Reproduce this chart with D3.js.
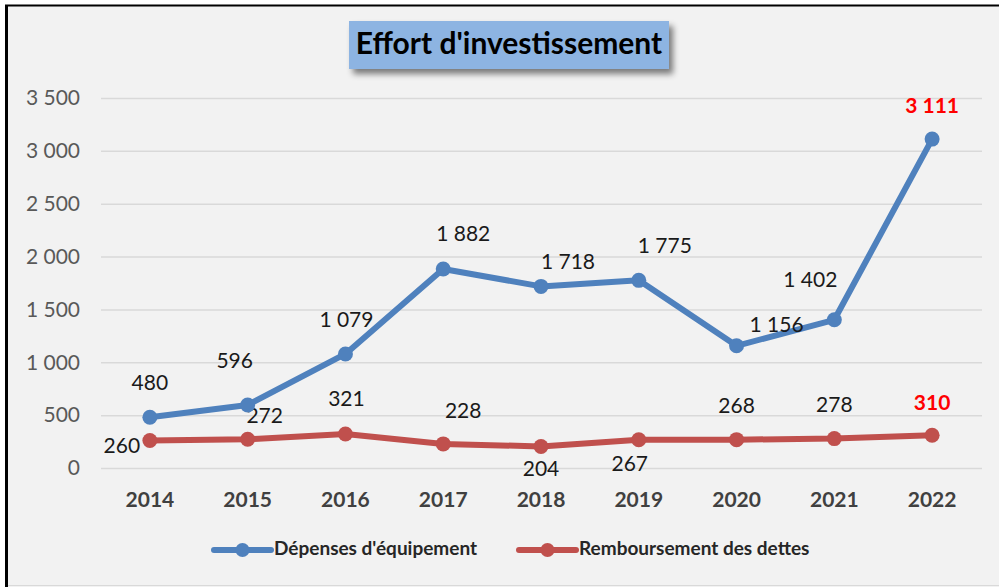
<!DOCTYPE html>
<html><head><meta charset="utf-8">
<script src="https://cdn.jsdelivr.net/npm/d3@7"></script>
<style>html,body{margin:0;padding:0;background:#fff;}svg{display:block;}</style>
</head><body><svg id="c" width="999" height="587"></svg>
<script>
const years = ["2014","2015","2016","2017","2018","2019","2020","2021","2022"];
const depenses = [480, 596, 1079, 1882, 1718, 1775, 1156, 1402, 3111];
const remboursement = [260, 272, 321, 228, 204, 267, 268, 278, 310];
const yTicks = [0, 500, 1000, 1500, 2000, 2500, 3000, 3500];
const seriesNames = ["Dépenses d'équipement", "Remboursement des dettes"];
// label offsets (dx, dy) relative to point
const depLabelOff = [[0,-33],[-13,-42],[1,-32],[20,-33],[27,-23],[26,-33],[40,-19],[-24,-38],[0,-32]];
const remLabelOff = [[-28,7],[17,-22],[1,-33],[20,-31],[0,24],[-9,26],[0,-32],[0,-32],[0,-31]];

const svg = d3.select("#c");
const fmt = v => d3.format(",")(v).replace(/,/g, " ");
const fontFam = "Lato, 'Open Sans', sans-serif";

svg.append("rect").attr("x",6).attr("y",5).attr("width",993).attr("height",582).attr("fill","#f2f2f2");
svg.append("line").attr("x1",5).attr("x2",999).attr("y1",5.5).attr("y2",5.5).attr("stroke","#000").attr("stroke-width",2);
svg.append("line").attr("x1",6.5).attr("x2",6.5).attr("y1",5).attr("y2",587).attr("stroke","#000").attr("stroke-width",3);
svg.append("line").attr("x1",8).attr("x2",999).attr("y1",585.5).attr("y2",585.5).attr("stroke","#d9d9d9").attr("stroke-width",1);

const x = d3.scaleBand().domain(years).range([101, 981]);
const y = d3.scaleLinear().domain([0, 3500]).range([468, 98]);

// gridlines
svg.append("g").selectAll("line").data(yTicks).join("line")
  .attr("x1",101).attr("x2",982).attr("y1",d=>y(d)+0.5).attr("y2",d=>y(d)+0.5)
  .attr("stroke","#d9d9d9").attr("stroke-width",1.5);

// y axis labels
const yAxis = d3.axisLeft(y).tickValues(yTicks).tickSize(0).tickPadding(0).tickFormat(fmt);
const gy = svg.append("g").attr("transform","translate(80,0)").call(yAxis);
gy.select(".domain").remove();
gy.selectAll("text").attr("font-family",fontFam).attr("font-size",21).attr("fill","#595959");

// x axis labels
const xAxis = d3.axisBottom(x).tickSize(0).tickPadding(0);
const gx = svg.append("g").attr("transform","translate(0,500)").call(xAxis);
gx.select(".domain").remove();
gx.selectAll("text").attr("font-family",fontFam).attr("font-size",21).attr("font-weight","bold").attr("fill","#404040").attr("dy","0.35em");

const cx = d => x(d) + x.bandwidth()/2;
const line = d3.line().x(d=>cx(d[0])).y(d=>y(d[1]));

function drawSeries(vals, color, offs) {
  const pts = years.map((yr,i)=>[yr, vals[i]]);
  svg.append("path").datum(pts).attr("d", line).attr("fill","none").attr("stroke",color).attr("stroke-width",6).attr("stroke-linejoin","round");
  svg.append("g").selectAll("circle").data(pts).join("circle")
    .attr("cx",d=>cx(d[0])).attr("cy",d=>y(d[1])).attr("r",7.5).attr("fill",color);
  svg.append("g").selectAll("text").data(pts).join("text")
    .attr("x",(d,i)=>cx(d[0])+offs[i][0]).attr("y",(d,i)=>y(d[1])+offs[i][1])
    .attr("text-anchor","middle").attr("dominant-baseline","middle")
    .attr("font-family",fontFam).attr("font-size",21)
    .attr("font-weight",(d,i)=> i===pts.length-1?"bold":"normal")
    .attr("fill",(d,i)=> i===pts.length-1?"#ff0000":"#1a1a1a")
    .text(d=>fmt(d[1]));
}
drawSeries(remboursement, "#c0504d", remLabelOff);
drawSeries(depenses, "#4f81bd", depLabelOff);

// title
const defs = svg.append("defs");
const f = defs.append("filter").attr("id","sh").attr("x","-10%").attr("y","-20%").attr("width","130%").attr("height","160%");
f.append("feGaussianBlur").attr("in","SourceAlpha").attr("stdDeviation",3);
f.append("feOffset").attr("dx",4).attr("dy",5).attr("result","b");
f.append("feComponentTransfer").append("feFuncA").attr("type","linear").attr("slope",0.5);
const fm = f.append("feMerge"); fm.append("feMergeNode"); fm.append("feMergeNode").attr("in","SourceGraphic");
svg.append("rect").attr("x",349).attr("y",21).attr("width",320).attr("height",48).attr("fill","#8db4e2").attr("filter","url(#sh)");
svg.append("text").attr("x",509).attr("y",46).attr("text-anchor","middle").attr("dominant-baseline","middle")
  .attr("font-family",fontFam).attr("font-weight","bold").attr("font-size",30).attr("fill","#000").text("Effort d'investissement");

// legend
const legend = [{name:seriesNames[0], color:"#4f81bd", x:214},{name:seriesNames[1], color:"#c0504d", x:519}];
const lg = svg.append("g").selectAll("g").data(legend).join("g").attr("transform",d=>`translate(${d.x},550)`);
lg.append("line").attr("x1",0).attr("x2",57).attr("stroke",d=>d.color).attr("stroke-width",6).attr("stroke-linecap","round");
lg.append("circle").attr("cx",28.5).attr("r",7).attr("fill",d=>d.color);
lg.append("text").attr("x",60).attr("dominant-baseline","middle").attr("font-family",fontFam).attr("font-size",19).attr("font-weight","bold").attr("fill","#262626").text(d=>d.name);
</script></body></html>
